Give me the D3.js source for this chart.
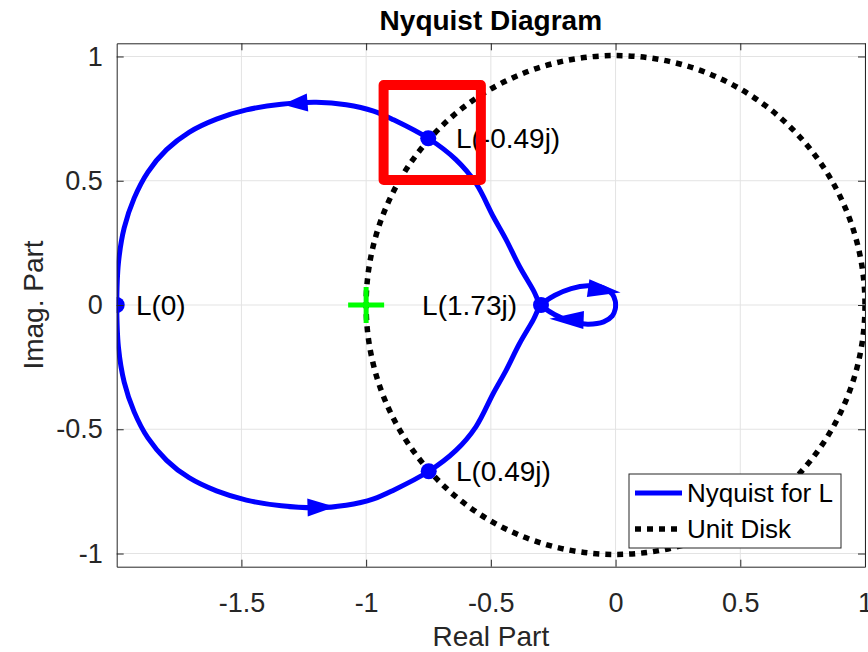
<!DOCTYPE html>
<meta charset="utf-8">
<style>

body {
  margin: 0;
  background: #fff;
}

text {
  font-family: "Liberation Sans", Arial, Helvetica, sans-serif;
}

.grid line {
  stroke: #e3e3e3;
  stroke-width: 1;
}

.axis path,
.axis line {
  stroke: #262626;
  stroke-width: 1;
}

.axis text {
  fill: #262626;
  font-size: 27px;
}

.nyquist {
  fill: none;
  stroke: #0000ff;
  stroke-width: 5;
}

.unit {
  fill: none;
  stroke: #000;
  stroke-width: 5.5;
  stroke-dasharray: 6,6;
}

</style>
<svg width="868" height="652"></svg>
<script src="https://d3js.org/d3.v7.min.js"></script>
<script>

// positive frequencies: L(0) along the lower arc to L(1.73j), then the small upper lobe into the origin
var lowerArc = [
  [-2.000, 0.000], [-1.993, -0.170], [-1.970, -0.310], [-1.930, -0.430],
  [-1.875, -0.535], [-1.800, -0.625], [-1.710, -0.695], [-1.600, -0.748],
  [-1.480, -0.785], [-1.340, -0.808], [-1.200, -0.816], [-1.080, -0.806],
  [-0.970, -0.780], [-0.890, -0.745], [-0.750, -0.670], [-0.640, -0.585],
  [-0.560, -0.490], [-0.490, -0.355], [-0.440, -0.265], [-0.385, -0.155],
  [-0.330, -0.060], [-0.299, 0.000]
];
var upperLobe = [
  [-0.299, 0.000], [-0.245, 0.038], [-0.178, 0.066], [-0.112, 0.077],
  [-0.048, 0.068], [-0.013, 0.044], [-0.001, 0.015], [0.000, 0.000]
];

// negative frequencies: origin, small lower lobe, L(-1.73j), upper arc back to L(0)
var lowerLobe = [
  [0.000, 0.000], [-0.001, -0.015], [-0.013, -0.044], [-0.048, -0.068],
  [-0.112, -0.077], [-0.178, -0.066], [-0.245, -0.038], [-0.299, 0.000]
];
var upperArc = [
  [-0.299, 0.000], [-0.330, 0.060], [-0.385, 0.155], [-0.440, 0.265],
  [-0.490, 0.355], [-0.560, 0.490], [-0.640, 0.585], [-0.750, 0.670],
  [-0.890, 0.745], [-0.970, 0.780], [-1.080, 0.806], [-1.200, 0.816],
  [-1.340, 0.808], [-1.480, 0.785], [-1.600, 0.748], [-1.710, 0.695],
  [-1.800, 0.625], [-1.875, 0.535], [-1.930, 0.430], [-1.970, 0.310],
  [-1.993, 0.170], [-2.000, 0.000]
];

// direction arrows: tip and base centre
var arrows = [
  {tip: [-1.335, 0.807], base: [-1.235, 0.815]},
  {tip: [-1.125, -0.812], base: [-1.235, -0.815]},
  {tip: [0.020, 0.050], base: [-0.110, 0.068]},
  {tip: [-0.265, -0.055], base: [-0.128, -0.060]}
];

var markers = [[-2.000, 0.000], [-0.751, 0.671], [-0.299, 0.000], [-0.749, -0.669]];
var labels = [
  {text: "L(0)", at: [-1.923, 0.000], anchor: "start"},
  {text: "L(-0.49j)", at: [-0.640, 0.671], anchor: "start"},
  {text: "L(1.73j)", at: [-0.395, 0.000], anchor: "end"},
  {text: "L(0.49j)", at: [-0.640, -0.669], anchor: "start"}
];

var criticalPoint = [-1, 0];
var unitRadius = 1;
var highlightBox = {x0: -0.93, x1: -0.54, y0: 0.503, y1: 0.885};

var xTicks = [-1.5, -1, -0.5, 0, 0.5, 1],
    yTicks = [-1, -0.5, 0, 0.5, 1];
var legendItems = ["Nyquist for L", "Unit Disk"];

var svg = d3.select("svg"),
    margin = {top: 43.3, right: 3, bottom: 85.3, left: 116.7},
    width = +svg.attr("width") - margin.left - margin.right,
    height = +svg.attr("height") - margin.top - margin.bottom;

var x = d3.scaleLinear().domain([-2, 1]).range([0, width]),
    y = d3.scaleLinear().domain([-1.053, 1.053]).range([height, 0]);

var fmt = function(d) { return String(d); };

var g = svg.append("g")
    .attr("transform", "translate(" + margin.left + "," + margin.top + ")");

g.append("clipPath")
    .attr("id", "clip")
  .append("rect")
    .attr("width", width)
    .attr("height", height);

// grid
var grid = g.append("g").attr("class", "grid");
grid.selectAll(".gx")
  .data(xTicks)
  .enter().append("line")
    .attr("x1", function(d) { return x(d); })
    .attr("x2", function(d) { return x(d); })
    .attr("y1", 0)
    .attr("y2", height);
grid.selectAll(".gy")
  .data(yTicks)
  .enter().append("line")
    .attr("x1", 0)
    .attr("x2", width)
    .attr("y1", function(d) { return y(d); })
    .attr("y2", function(d) { return y(d); });

var plot = g.append("g").attr("clip-path", "url(#clip)");

// unit circle
plot.append("circle")
    .attr("class", "unit")
    .attr("cx", x(0))
    .attr("cy", y(0))
    .attr("r", x(unitRadius) - x(0));

var line = d3.line()
    .x(function(d) { return x(d[0]); })
    .y(function(d) { return y(d[1]); })
    .curve(d3.curveCatmullRom);

[lowerArc.concat(upperLobe.slice(1)), lowerLobe.concat(upperArc.slice(1))].forEach(function(branch) {
  plot.append("path")
      .attr("class", "nyquist")
      .attr("d", line(branch));
});

plot.selectAll(".arrow")
  .data(arrows)
  .enter().append("path")
    .attr("fill", "#0000ff")
    .attr("d", function(d) {
      var tx = x(d.tip[0]), ty = y(d.tip[1]),
          bx = x(d.base[0]), by = y(d.base[1]),
          len = Math.hypot(tx - bx, ty - by),
          nx = -(ty - by) / len * 9, ny = (tx - bx) / len * 9;
      return "M" + tx + "," + ty + "L" + (bx + nx) + "," + (by + ny) + "L" + (bx - nx) + "," + (by - ny) + "Z";
    });

plot.selectAll(".marker")
  .data(markers)
  .enter().append("circle")
    .attr("cx", function(d) { return x(d[0]); })
    .attr("cy", function(d) { return y(d[1]); })
    .attr("r", 8)
    .attr("fill", "#0000ff");

// critical point -1
var cp = g.append("g")
    .attr("transform", "translate(" + x(criticalPoint[0]) + "," + y(criticalPoint[1]) + ")")
    .attr("stroke", "#00ff00")
    .attr("stroke-width", 5);
cp.append("line").attr("x1", -18).attr("x2", 18);
cp.append("line").attr("y1", -18).attr("y2", 18);

g.selectAll(".label")
  .data(labels)
  .enter().append("text")
    .attr("x", function(d) { return x(d.at[0]); })
    .attr("y", function(d) { return y(d.at[1]); })
    .attr("dy", "0.35em")
    .attr("text-anchor", function(d) { return d.anchor; })
    .style("font-size", "28px")
    .style("fill", "#000")
    .text(function(d) { return d.text; });

g.append("rect")
    .attr("x", x(highlightBox.x0))
    .attr("y", y(highlightBox.y1))
    .attr("width", x(highlightBox.x1) - x(highlightBox.x0))
    .attr("height", y(highlightBox.y0) - y(highlightBox.y1))
    .attr("fill", "none")
    .attr("stroke", "#ff0000")
    .attr("stroke-width", 10)
    .attr("stroke-linejoin", "round");

// axes, ticks on all four sides
g.append("g")
    .attr("class", "axis")
    .attr("transform", "translate(0," + height + ")")
    .call(d3.axisBottom(x).tickValues(xTicks).tickFormat(fmt).tickSize(-7).tickSizeOuter(0).tickPadding(26));
g.append("g")
    .attr("class", "axis")
    .call(d3.axisTop(x).tickValues(xTicks).tickSize(-7).tickSizeOuter(0).tickFormat(""));
g.append("g")
    .attr("class", "axis")
    .call(d3.axisLeft(y).tickValues(yTicks).tickFormat(fmt).tickSize(-7).tickSizeOuter(0).tickPadding(14));
g.append("g")
    .attr("class", "axis")
    .attr("transform", "translate(" + width + ",0)")
    .call(d3.axisRight(y).tickValues(yTicks).tickSize(-7).tickSizeOuter(0).tickFormat(""));

svg.append("text")
    .attr("x", margin.left + width / 2)
    .attr("y", 30)
    .attr("text-anchor", "middle")
    .style("font-size", "28px")
    .style("font-weight", "bold")
    .style("fill", "#000")
    .text("Nyquist Diagram");

svg.append("text")
    .attr("x", margin.left + width / 2)
    .attr("y", 646)
    .attr("text-anchor", "middle")
    .style("font-size", "28px")
    .style("fill", "#262626")
    .text("Real Part");

svg.append("text")
    .attr("transform", "translate(43," + (margin.top + height / 2) + ") rotate(-90)")
    .attr("text-anchor", "middle")
    .style("font-size", "28px")
    .style("fill", "#262626")
    .text("Imag. Part");

// legend
var legend = svg.append("g").attr("transform", "translate(629,474)");
legend.append("rect")
    .attr("width", 212)
    .attr("height", 74)
    .attr("fill", "#fff")
    .attr("stroke", "#262626")
    .attr("stroke-width", 1);
legend.selectAll(".li")
  .data(legendItems)
  .enter().append("g")
    .attr("transform", function(d, i) { return "translate(0," + (19 + i * 36) + ")"; })
    .each(function(d, i) {
      var row = d3.select(this);
      row.append("line")
          .attr("class", i === 0 ? "nyquist" : "unit")
          .attr("x1", 6)
          .attr("x2", 53);
      row.append("text")
          .attr("x", 58)
          .attr("dy", "0.35em")
          .style("font-size", "26px")
          .style("fill", "#000")
          .text(d);
    });

</script>
